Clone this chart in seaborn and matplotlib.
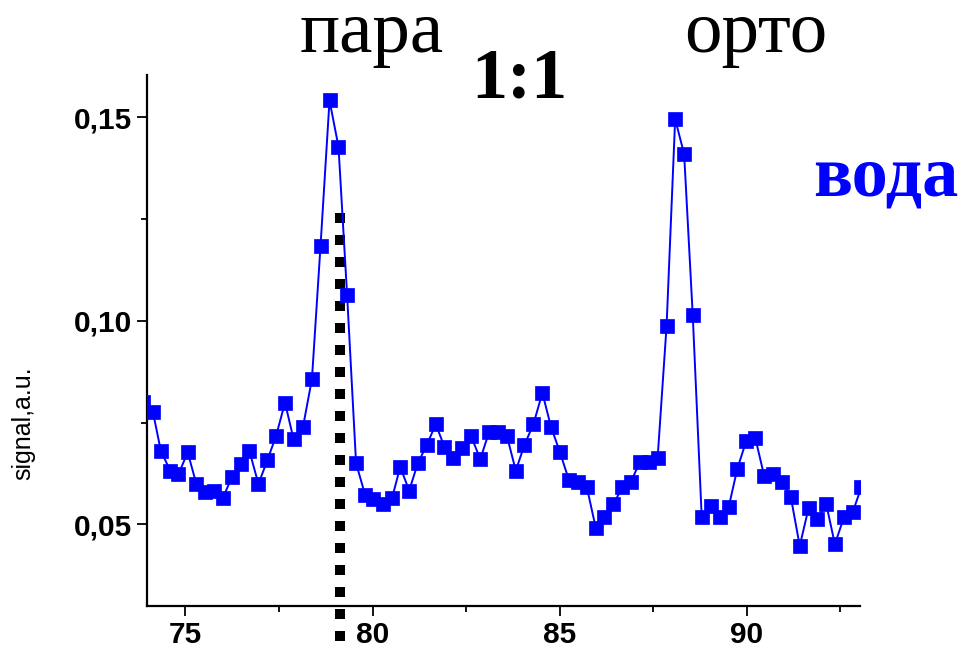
import matplotlib
matplotlib.use("Agg")
import matplotlib.pyplot as plt
import seaborn as sns
import numpy as np
import pandas as pd
from matplotlib.ticker import MultipleLocator, FuncFormatter

# ---------------- data ----------------
wavelength = [73.87, 74.13, 74.34, 74.59, 74.81, 75.06, 75.29, 75.53, 75.77, 76.00,
              76.24, 76.48, 76.71, 76.95, 77.19, 77.42, 77.66, 77.89, 78.14, 78.38,
              78.61, 78.85, 79.09, 79.32, 79.56, 79.80, 80.02, 80.27, 80.52, 80.74,
              80.98, 81.21, 81.45, 81.69, 81.92, 82.16, 82.40, 82.63, 82.88, 83.12,
              83.35, 83.59, 83.83, 84.06, 84.30, 84.54, 84.77, 85.01, 85.25, 85.49,
              85.73, 85.97, 86.20, 86.44, 86.68, 86.91, 87.15, 87.39, 87.62, 87.86,
              88.09, 88.33, 88.56, 88.80, 89.04, 89.28, 89.52, 89.75, 89.99, 90.23,
              90.47, 90.71, 90.95, 91.18, 91.42, 91.66, 91.89, 92.13, 92.36, 92.60,
              92.84, 93.07]
signal = [0.0801, 0.0776, 0.0681, 0.0632, 0.0623, 0.0677, 0.0599, 0.0579, 0.0582, 0.0564,
          0.0617, 0.0649, 0.0680, 0.0599, 0.0658, 0.0717, 0.0799, 0.0709, 0.0739, 0.0857,
          0.1185, 0.1542, 0.1428, 0.1064, 0.0650, 0.0573, 0.0562, 0.0551, 0.0564, 0.0641,
          0.0583, 0.0650, 0.0695, 0.0746, 0.0691, 0.0664, 0.0687, 0.0718, 0.0660, 0.0728,
          0.0728, 0.0718, 0.0632, 0.0695, 0.0746, 0.0823, 0.0740, 0.0677, 0.0609, 0.0605,
          0.0591, 0.0490, 0.0519, 0.0550, 0.0591, 0.0605, 0.0654, 0.0654, 0.0662, 0.0987,
          0.1496, 0.1410, 0.1014, 0.0517, 0.0545, 0.0517, 0.0542, 0.0636, 0.0705, 0.0713,
          0.0619, 0.0623, 0.0605, 0.0568, 0.0447, 0.0541, 0.0513, 0.0549, 0.0451, 0.0517,
          0.0531, 0.0592]

para_marker_x = [79.13, 79.13]
para_marker_y = [0.1265, 0.0196]

x_ticks = [75, 80, 85, 90]
y_ticks = [0.05, 0.10, 0.15]

label_para = "пара"
label_orto = "орто"
label_ratio = "1:1"
label_sample = "вода"
y_label = "signal,a.u."

# ---------------- figure ----------------
sns.set_theme(style="ticks")
plt.rcParams['font.family'] = ['Liberation Sans', 'DejaVu Sans']
plt.rcParams['text.color'] = 'black'
plt.rcParams['axes.labelcolor'] = 'black'
plt.rcParams['xtick.color'] = 'black'
plt.rcParams['ytick.color'] = 'black'
plt.rcParams['xtick.labelcolor'] = 'black'
plt.rcParams['ytick.labelcolor'] = 'black'

fig = plt.figure(figsize=(9.63, 6.48), dpi=100)
ax = fig.add_axes([0.153, 0.0653, 0.740, 0.8187])

df = pd.DataFrame({"x": wavelength, "y": signal})
sns.lineplot(data=df, x="x", y="y", ax=ax, color="#0000ff", linewidth=1.4,
             marker="s", markersize=10.5, markeredgecolor="#0000ff",
             markeredgewidth=0.5, estimator=None, sort=False, zorder=3)

ax.plot(para_marker_x, para_marker_y, color="black", linewidth=7.2,
        linestyle=(0, (1, 1.2)), dash_capstyle="butt", clip_on=False, zorder=2)

ax.set_xlim(73.98, 93.03)
ax.set_ylim(0.030, 0.1604)

ax.set_xticks(x_ticks)
ax.set_yticks(y_ticks)
ax.xaxis.set_minor_locator(MultipleLocator(2.5))
ax.yaxis.set_minor_locator(MultipleLocator(0.025))
ax.yaxis.set_major_formatter(FuncFormatter(lambda v, p: f"{v:.2f}".replace(".", ",")))

for s in ["top", "right"]:
    ax.spines[s].set_visible(False)
for s in ["left", "bottom"]:
    ax.spines[s].set_linewidth(1.6)
    ax.spines[s].set_color("black")

ax.tick_params(axis="both", which="major", direction="out", length=7.5, width=1.3,
               color="black", labelcolor="black", pad=3.5, labelsize=21.5)
ax.tick_params(axis="both", which="minor", direction="out", length=4.5, width=1.3,
               color="black")
for lab in ax.get_xticklabels() + ax.get_yticklabels():
    lab.set_fontweight("bold")
    lab.set_color("black")

ax.set_xlabel("")
ax.set_ylabel("")
fig.text(0.024, 0.347, y_label, rotation=90, ha="center", va="center",
         fontsize=18, color="black", family=['Liberation Sans', 'DejaVu Sans'])

serif = ['Liberation Serif', 'DejaVu Serif']
fig.text(0.386, 0.920, label_para, ha="center", va="baseline", fontsize=54,
         color="black", family=serif)
fig.text(0.785, 0.920, label_orto, ha="center", va="baseline", fontsize=54,
         color="black", family=serif)
fig.text(0.539, 0.850, label_ratio, ha="center", va="baseline", fontsize=52,
         fontweight="bold", color="black", family=serif)
fig.text(0.920, 0.699, label_sample, ha="center", va="baseline", fontsize=52,
         fontweight="bold", color="#0000ff", family=serif)

fig.savefig("out.png", dpi=100)
